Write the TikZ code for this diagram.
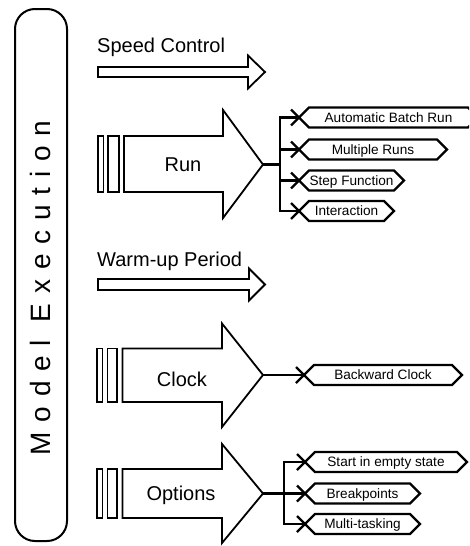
\documentclass[tikz,border=0pt]{standalone}
\usepackage{fontspec}
\setmainfont{Liberation Sans}
\usetikzlibrary{shapes.symbols}
\begin{document}
\begin{tikzpicture}[x=1pt,y=-1pt,
  arr/.style={draw=black, line width=1.8pt, line join=miter},
  conn/.style={draw=black, line width=2.2pt},
  frame/.style={draw=black, line width=2pt, rounded corners=20pt},
  big/.style={font=\fontsize{20}{24}\selectfont, inner sep=0pt, text height=14.3pt, text depth=0pt},
  heading/.style={font=\fontsize{20}{24}\selectfont, inner sep=0pt, anchor=base west},
  lbl/.style={signal, signal to=west and east, draw=black, line width=2.2pt,
    minimum height=20pt, inner xsep=0pt, inner ysep=0pt, outer sep=0pt, anchor=west,
    text height=9.8pt, text depth=0pt, font=\fontsize{13.6}{15}\selectfont},
  title/.style={rotate=90, inner sep=0pt, font=\fontsize{28}{30}\selectfont\addfontfeature{LetterSpace=35}}
]
\useasboundingbox (0,0) rectangle (469,546);
\clip (0,0) rectangle (469,546);

% frame and title
\draw[frame] (15,9) rectangle (67,541);
\node[title] (model) at (40,288) {Model Execution};

% Speed Control
\node[heading] (speed) at (97,52) {Speed Control};
\draw[arr] (98,67) -- (248,67) -- (248,55.5) -- (265,72) -- (248,88.5) -- (248,77) -- (98,77) -- cycle;

% Run
\draw[arr] (98,136) rectangle (103.5,192);
\draw[arr] (108,136) rectangle (119,192);
\draw[arr] (124,136) -- (223,136) -- (223,110) -- (263,164.5) -- (223,218) -- (223,192) -- (124,192) -- cycle;
\coordinate (runtip) at (263,164.5);
\node[big] (run) at (183,164) {Run};

\node[lbl, minimum width=179pt] (r1) at (299,117.5) {Automatic Batch Run};
\node[lbl, minimum width=148pt] (r2) at (299,149.5) {Multiple Runs};
\node[lbl, minimum width=105pt] (r3) at (299,180.5) {Step Function};
\node[lbl, minimum width=95pt]  (r4) at (299,211) {Interaction};
\foreach \n in {r1,r2,r3,r4}{
  \draw[conn] (runtip) -- ++(17,0) |- (\n.west);
  \draw[conn] (\n.west) -- ++(-8,-8);
  \draw[conn] (\n.west) -- ++(-8,8);
}

% Warm-up Period
\node[heading] (warm) at (97,266) {Warm-up Period};
\draw[arr] (98,279) -- (249,279) -- (249,268.5) -- (265,284.5) -- (249,300.5) -- (249,290) -- (98,290) -- cycle;

% Clock
\draw[arr] (97,348.5) rectangle (102.5,402);
\draw[arr] (107.5,348.5) rectangle (117,402);
\draw[arr] (122.5,348.5) -- (222,348.5) -- (222,323.5) -- (263,375) -- (222,427) -- (222,402) -- (122.5,402) -- cycle;
\coordinate (clocktip) at (263,375);
\node[big] (clock) at (182,379) {Clock};

\node[lbl, minimum width=158pt] (c1) at (304,375) {Backward Clock};
\draw[conn] (clocktip) -- (c1.west);
\draw[conn] (c1.west) -- ++(-8,-8);
\draw[conn] (c1.west) -- ++(-8,8);

% Options
\draw[arr] (97,469) rectangle (102.5,518);
\draw[arr] (107.5,469) rectangle (117,518);
\draw[arr] (122.5,469) -- (222,469) -- (222,444) -- (263,493.5) -- (222,543) -- (222,518) -- (122.5,518) -- cycle;
\coordinate (opttip) at (263,493.5);
\node[big] (options) at (181,493) {Options};

\node[lbl, minimum width=162pt] (o1) at (305,462) {Start in empty state};
\node[lbl, minimum width=115pt] (o2) at (305,493.5) {Breakpoints};
\node[lbl, minimum width=115pt] (o3) at (305,524) {Multi-tasking};
\foreach \n in {o1,o2,o3}{
  \draw[conn] (opttip) -- ++(21,0) |- (\n.west);
  \draw[conn] (\n.west) -- ++(-8,-8);
  \draw[conn] (\n.west) -- ++(-8,8);
}
\end{tikzpicture}
\end{document}
